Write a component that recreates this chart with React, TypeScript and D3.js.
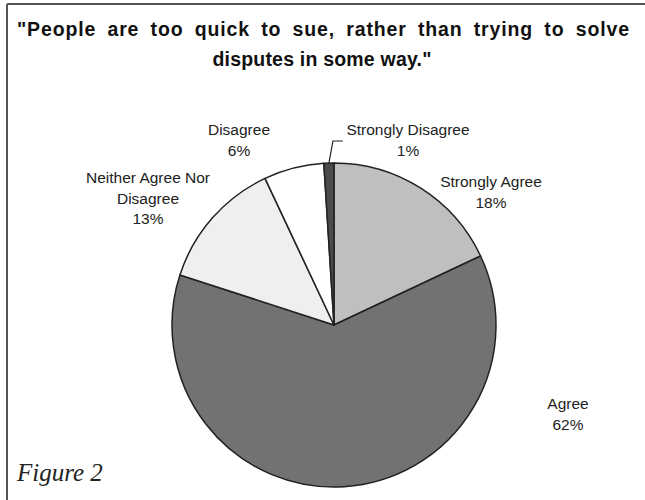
import React from "react";
import * as d3 from "d3";

const categories = ["Strongly Agree", "Agree", "Neither Agree Nor Disagree", "Disagree", "Strongly Disagree"];
const values = [18, 62, 13, 6, 1];
const colors = ["#bfbfc1", "#727274", "#eeefef", "#ffffff", "#4b4b4d"];
const labelLines = [
  ["Strongly Agree", "18%"],
  ["Agree", "62%"],
  ["Neither Agree Nor", "Disagree", "13%"],
  ["Disagree", "6%"],
  ["Strongly Disagree", "1%"],
];
const labelPos = [
  [491, 187],
  [568, 409],
  [148, 183],
  [239, 135],
  [408, 135],
];

export default function App() {
  const W = 645, H = 500;
  const cx = 334, cy = 325, r = 162;
  const pie = d3.pie<number>().sort(null).value((d) => d)(values);
  const arc = d3.arc<d3.PieArcDatum<number>>().innerRadius(0).outerRadius(r);
  const sd = pie[4];
  const mid = (sd.startAngle + sd.endAngle) / 2;
  const lx0 = Math.sin(mid) * r, ly0 = -Math.cos(mid) * r;
  return (
    <svg width={W} height={H} style={{ position: "absolute", left: 0, top: 0, background: "#fff" }}
      fontFamily="Liberation Sans, Arial, sans-serif">
      <line x1={7} y1={4} x2={W} y2={4} stroke="#555" strokeWidth={2} />
      <line x1={7} y1={4} x2={7} y2={H} stroke="#555" strokeWidth={2} />
      <text x={17} y={36} fontSize={19.5} fontWeight="bold" fill="#111" wordSpacing={5} textLength={612} lengthAdjust="spacing">
        "People are too quick to sue, rather than trying to solve
      </text>
      <text x={322} y={66} textAnchor="middle" fontSize={19.5} fontWeight="bold" fill="#111" letterSpacing={0.2}>
        disputes in some way."
      </text>
      <g transform={`translate(${cx},${cy})`}>
        {pie.map((p, i) => (
          <path key={categories[i]} d={arc(p) || ""} fill={colors[i]} stroke="#222" strokeWidth={1.5} strokeLinejoin="round" />
        ))}
        <polyline
          points={`${lx0},${ly0} ${lx0 + 4},${-184} ${lx0 + 14},${-184}`}
          fill="none" stroke="#222" strokeWidth={1.2} />
      </g>
      {labelLines.map((lines, i) => (
        <text key={i} textAnchor="middle" fontSize={15.5} fill="#222">
          {lines.map((l, j) => (
            <tspan key={j} x={labelPos[i][0]} y={labelPos[i][1] + j * 20.5}>{l}</tspan>
          ))}
        </text>
      ))}
      <text x={17} y={481} fontFamily="Liberation Serif, serif" fontStyle="italic" fontSize={25} fill="#222">
        Figure 2
      </text>
    </svg>
  );
}
